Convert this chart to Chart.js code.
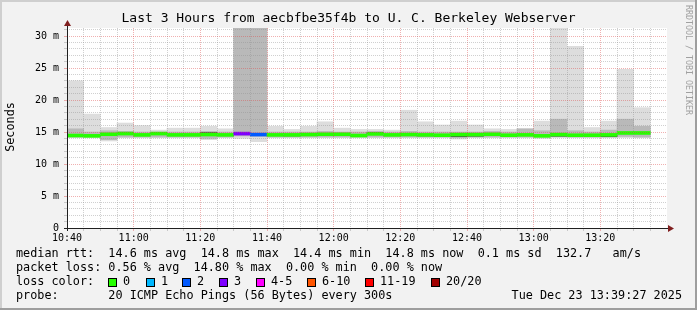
<!DOCTYPE html>
<html>
<head>
<meta charset="utf-8">
<script src="https://cdn.jsdelivr.net/npm/chart.js@4.4.1/dist/chart.umd.min.js"></script>
<style>
  html, body { margin: 0; padding: 0; background: #f2f2f2; }
</style>
</head>
<body>
<canvas id="smoke" width="697" height="310"></canvas>
<script>
// DATI: slot di 5 minuti a partire dalle 10:40 (minuti dall'inizio)
const slotMin = [0, 5, 10, 15, 20, 25, 30, 35, 40, 45, 50, 55, 60, 65, 70, 75, 80, 85, 90, 95,
  100, 105, 110, 115, 120, 125, 130, 135, 140, 145, 150, 155, 160, 165, 170];
// fumo chiaro (min..max dei ping), ms
const smokeLo = [14.1, 14.1, 13.6, 14.1, 14.1, 14.1, 14.1, 14.1, 13.8, 14.1, 14.0, 13.5, 14.1, 14.1, 14.1, 14.1, 14.1, 14.1,
  14.1, 14.1, 14.1, 14.1, 14.1, 13.9, 14.1, 14.1, 14.1, 14.1, 14.0, 14.1, 14.1, 14.1, 14.1, 14.1, 14.1];
const smokeHi = [23.0, 17.8, 15.7, 16.4, 16.0, 15.3, 15.6, 15.6, 15.9, 15.5, 34, 34, 15.9, 15.4, 15.9, 16.6, 15.6, 15.4,
  15.4, 15.3, 18.4, 16.6, 16.1, 16.7, 16.1, 15.5, 15.4, 15.5, 16.7, 34, 28.4, 15.7, 16.7, 24.8, 18.8];
// fumo scuro (nucleo), ms
const coreLo = [14.2, 14.2, 13.8, 14.2, 14.2, 14.2, 14.2, 14.2, 14.0, 14.2, 14.4, 14.3, 14.2, 14.2, 14.2, 14.2, 14.2, 14.2,
  14.2, 14.2, 14.2, 14.2, 14.2, 14.1, 14.2, 14.2, 14.2, 14.2, 14.2, 14.3, 14.2, 14.2, 14.2, 14.3, 14.2];
const coreHi = [15.5, 15.0, 15.2, 15.1, 15.0, 15.0, 15.0, 15.0, 15.1, 15.0, 34, 34, 15.0, 15.0, 15.0, 15.1, 15.0, 15.0,
  15.1, 15.0, 15.1, 15.0, 15.0, 15.0, 15.0, 15.1, 15.0, 15.5, 15.2, 17.0, 15.2, 15.0, 15.3, 17.0, 15.9];
// mediana rtt (ms) e pacchetti persi su 20
const medianRtt = [14.45, 14.4, 14.65, 14.75, 14.55, 14.75, 14.55, 14.55, 14.6, 14.55, 14.75, 14.6, 14.55, 14.55, 14.6, 14.65,
  14.65, 14.45, 14.7, 14.55, 14.6, 14.55, 14.5, 14.6, 14.6, 14.65, 14.5, 14.55, 14.4, 14.6, 14.5, 14.5, 14.55, 14.85, 14.85];
const lossCount = [0, 0, 0, 0, 0, 0, 0, 0, 0, 0, 3, 2, 0, 0, 0, 0, 0, 0,
  0, 0, 0, 0, 0, 0, 0, 0, 0, 0, 0, 0, 0, 0, 0, 0, 0];
// righe scure (ping coincidenti)
const darkLine = [null, 14.4, 14.6, null, null, null, null, null, 14.8, null, null, null, null, 14.5, null, null, null, null,
  14.8, null, null, 14.5, null, 14.4, 14.45, null, 14.4, null, null, 14.45, null, null, 14.4, null, null];

const timeLabels = ['10:40', '11:00', '11:20', '11:40', '12:00', '12:20', '12:40', '13:00', '13:20'];
const yLabels = ['0', '5 m', '10 m', '15 m', '20 m', '25 m', '30 m'];
const lossLabels = ['0', '1', '2', '3', '4-5', '6-10', '11-19', '20/20'];
const lossColors = ['#26ff00', '#00b8ff', '#0059ff', '#7e00ff', '#ff00ff', '#ff5500', '#ff0000', '#a10000'];

const MONO = "'DejaVu Sans Mono', monospace";
const GRID = 'rgba(143,143,143,0.42)';
const MGRID = 'rgba(222,79,79,0.45)';
const LINE_HALF = 0.23;  // mezza altezza della linea mediana (ms)
const DARK_HALF = 0.1;

function lossIdx(n) {
  if (n <= 3) return n;
  if (n <= 5) return 4;
  if (n <= 10) return 5;
  if (n <= 19) return 6;
  return 7;
}

const mid = m => m + 2.5;
const smokeData = slotMin.map((m, i) => ({ x: mid(m), y: [smokeLo[i], smokeHi[i]] }));
const coreData = slotMin.map((m, i) => ({ x: mid(m), y: [coreLo[i], coreHi[i]] }));
const medData = slotMin.map((m, i) => ({ x: mid(m), y: [medianRtt[i] - LINE_HALF, medianRtt[i] + LINE_HALF] }));
const darkData = slotMin.map((m, i) => darkLine[i] == null ? null : ({ x: mid(m), y: [darkLine[i] - DARK_HALF, darkLine[i] + DARK_HALF] })).filter(d => d);

const barCommon = { grouped: false, barPercentage: 1, categoryPercentage: 1, borderWidth: 0 };

const tickVal = ctx => (ctx && ctx.tick) ? ctx.tick.value : null;

const decor = {
  id: 'decor',
  beforeDraw(chart) {
    const c = chart.ctx, a = chart.chartArea;
    c.save();
    c.fillStyle = '#f2f2f2';
    c.fillRect(0, 0, 697, 310);
    c.fillStyle = '#cfcfcf';
    c.fillRect(0, 0, 697, 2);
    c.fillRect(0, 0, 2, 310);
    c.fillStyle = '#9e9e9e';
    c.fillRect(0, 308, 697, 2);
    c.fillRect(695, 0, 2, 310);
    c.fillStyle = '#ffffff';
    c.fillRect(a.left, a.top, a.right - a.left, a.bottom - a.top);
    c.restore();
  },
  afterDraw(chart) {
    const c = chart.ctx, a = chart.chartArea;
    c.save();
    // assi
    c.strokeStyle = '#1f1f1f';
    c.lineWidth = 1;
    c.beginPath();
    c.moveTo(a.left + 0.5, a.bottom + 3);
    c.lineTo(a.left + 0.5, a.top - 4);
    c.moveTo(a.left - 3, a.bottom + 0.5);
    c.lineTo(a.right + 3, a.bottom + 0.5);
    c.stroke();
    c.fillStyle = '#801f1f';
    c.beginPath();
    c.moveTo(a.left + 0.5, a.top - 8);
    c.lineTo(a.left - 3, a.top - 2);
    c.lineTo(a.left + 4, a.top - 2);
    c.closePath();
    c.fill();
    c.beginPath();
    c.moveTo(a.right + 7, a.bottom + 0.5);
    c.lineTo(a.right + 1, a.bottom - 3);
    c.lineTo(a.right + 1, a.bottom + 4);
    c.closePath();
    c.fill();

    // titolo
    c.fillStyle = '#000';
    c.textBaseline = 'middle';
    c.textAlign = 'center';
    c.font = '13px ' + MONO;
    c.fillText('Last 3 Hours from aecbfbe35f4b to U. C. Berkeley Webserver', 348.5, 19);

    // etichetta asse y
    c.save();
    c.font = '11.8px ' + MONO;
    c.translate(11, 127);
    c.rotate(-Math.PI / 2);
    c.fillText('Seconds', 0, 0);
    c.restore();

    // watermark
    c.save();
    c.font = '8.3px ' + MONO;
    c.fillStyle = '#a0a0a0';
    c.textAlign = 'left';
    c.translate(688.5, 5);
    c.rotate(Math.PI / 2);
    c.fillText('RRDTOOL / TOBI OETIKER', 0, 0);
    c.restore();

    // legenda
    c.textAlign = 'left';
    c.font = '11.8px ' + MONO;
    c.fillText('median rtt:  14.6 ms avg  14.8 ms max  14.4 ms min  14.8 ms now  0.1 ms sd  132.7   am/s', 16, 254.3);
    c.fillText('packet loss: 0.56 % avg  14.80 % max  0.00 % min  0.00 % now', 16, 268.3);
    c.fillText('loss color:', 16, 282.3);
    const boxX = [108, 145.7, 182.3, 219, 256, 307.3, 365, 430.7];
    lossLabels.forEach((lab, i) => {
      const bx = Math.round(boxX[i]);
      c.fillStyle = '#000';
      c.fillRect(bx, 278, 9, 9);
      c.fillStyle = lossColors[i];
      c.fillRect(bx + 1, 279, 7, 7);
      c.fillStyle = '#000';
      c.fillText(lab, bx + 15, 282.3);
    });
    c.fillText('probe:       20 ICMP Echo Pings (56 Bytes) every 300s', 16, 296);
    c.textAlign = 'right';
    c.fillText('Tue Dec 23 13:39:27 2025', 682, 296);
    c.restore();
  }
};

new Chart(document.getElementById('smoke'), {
  type: 'bar',
  data: {
    datasets: [
      { ...barCommon, data: medData, order: 1, backgroundColor: lossCount.map(n => lossColors[lossIdx(n)]) },
      { ...barCommon, data: darkData, order: 2, backgroundColor: '#333333' },
      { ...barCommon, data: coreData, order: 3, backgroundColor: '#b9b9b9' },
      { ...barCommon, data: smokeData, order: 4, backgroundColor: '#dddddd' }
    ]
  },
  options: {
    responsive: false,
    devicePixelRatio: 1,
    animation: false,
    layout: { padding: { top: 28, right: 30, bottom: 0, left: 0 } },
    plugins: { legend: { display: false }, tooltip: { enabled: false } },
    scales: {
      x: {
        type: 'linear', min: 0, max: 180, offset: false,
        afterFit: s => { s.height = 82; },
        ticks: {
          stepSize: 5, autoSkip: false, maxRotation: 0, padding: 1, color: '#000',
          font: { family: MONO, size: 10 },
          callback: v => (v % 20 === 0 && v < 180) ? timeLabels[v / 20] : ''
        },
        grid: {
          z: 1, tickLength: 3, offset: false,
          color: ctx => {
            const v = tickVal(ctx);
            if (v === null || v >= 180) return 'rgba(0,0,0,0)';
            return v % 20 === 0 ? MGRID : GRID;
          }
        },
        border: { display: false, dash: [1, 1] }
      },
      y: {
        min: 0, max: 31.25,
        afterFit: s => { s.width = 67; },
        ticks: {
          stepSize: 1, autoSkip: false, includeBounds: false, padding: 5, color: '#000',
          font: { family: MONO, size: 10 },
          callback: v => v % 5 === 0 ? yLabels[v / 5] : ''
        },
        grid: {
          z: 1, tickLength: 3,
          color: ctx => {
            const v = tickVal(ctx);
            if (v === null) return 'rgba(0,0,0,0)';
            return v % 5 === 0 ? MGRID : GRID;
          }
        },
        border: { display: false, dash: [1, 1] }
      }
    }
  },
  plugins: [decor]
});
</script>
</body>
</html>
